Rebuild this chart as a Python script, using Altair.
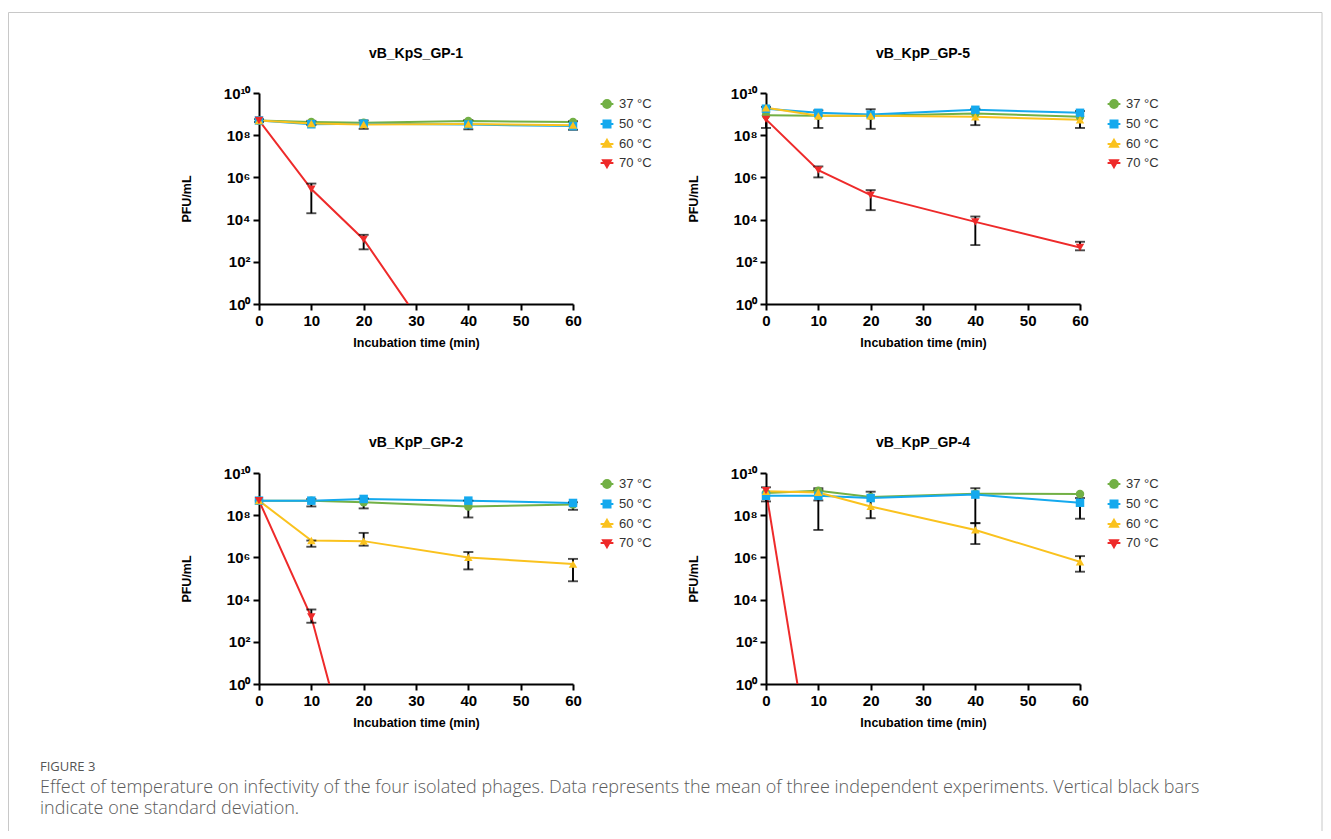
import altair as alt
import pandas as pd

# ---------------- data ----------------
TIMES = [0, 10, 20, 40, 60]
TEMPS = ["37 °C", "50 °C", "60 °C", "70 °C"]
COLORS = ["#72B045", "#14A9EE", "#FAC21E", "#EE2A2A"]
MARKERS = ["circle", "square", "triangle-up", "triangle-down"]

TITLES = ["vB_KpS_GP-1", "vB_KpP_GP-5", "vB_KpP_GP-2", "vB_KpP_GP-4"]

# vB_KpS_GP-1 (PFU/mL)
gp1_37 = [5.0e8, 4.2e8, 3.9e8, 4.7e8, 4.2e8]
gp1_50 = [5.0e8, 3.3e8, 3.5e8, 3.2e8, 2.7e8]
gp1_60 = [5.0e8, 3.6e8, 3.2e8, 3.4e8, 3.0e8]
gp1_70 = [5.0e8, 2.8e5, 1.15e3, 7.0e-5, None]
gp1_err_t = [0, 10, 10, 20, 20, 40, 60]
gp1_err_lo = [4.2e8, 3.0e8, 2.0e4, 2.0e8, 3.9e2, 1.9e8, 1.8e8]
gp1_err_hi = [5.8e8, 4.8e8, 5.1e5, 5.0e8, 1.9e3, 5.2e8, 4.6e8]

# vB_KpP_GP-5
gp5_37 = [8.9e8, 8.3e8, 8.3e8, 1.07e9, 7.4e8]
gp5_50 = [1.8e9, 1.15e9, 9.5e8, 1.6e9, 1.15e9]
gp5_60 = [2.0e9, 8.3e8, 8.3e8, 7.4e8, 5.4e8]
gp5_70 = [5.6e8, 2.2e6, 1.45e5, 7.8e3, 4.8e2]
gp5_err_t = [0, 10, 20, 40, 60, 10, 20, 40, 60]
gp5_err_lo = [2.2e8, 2.2e8, 2.0e8, 3.0e8, 2.2e8, 1.0e6, 2.8e4, 6.2e2, 3.5e2]
gp5_err_hi = [2.2e9, 1.5e9, 1.7e9, 1.8e9, 1.4e9, 3.3e6, 2.5e5, 1.4e4, 8.9e2]

# vB_KpP_GP-2
gp2_37 = [4.9e8, 4.9e8, 4.1e8, 2.6e8, 3.2e8]
gp2_50 = [4.9e8, 4.9e8, 5.9e8, 4.9e8, 3.8e8]
gp2_60 = [4.9e8, 6.3e6, 5.9e6, 1.0e6, 4.8e5]
gp2_70 = [4.9e8, 1.5e3, 8.0e-7, None, None]
gp2_err_t = [10, 20, 40, 60, 10, 20, 40, 60, 10]
gp2_err_lo = [2.6e8, 2.1e8, 7.8e7, 1.8e8, 3.2e6, 3.6e6, 2.7e5, 7.4e4, 8.0e2]
gp2_err_hi = [5.9e8, 6.3e8, 4.9e8, 4.1e8, 6.3e6, 1.45e7, 1.8e6, 8.5e5, 3.4e3]

# vB_KpP_GP-4
gp4_37 = [1.12e9, 1.45e9, 7.2e8, 1.05e9, 1.0e9]
gp4_50 = [8.3e8, 8.3e8, 6.5e8, 9.5e8, 3.9e8]
gp4_60 = [1.35e9, 1.2e9, 2.6e8, 2.0e7, 6.2e5]
gp4_70 = [1.45e9, 8.0e-7, None, None, None]
gp4_err_t = [0, 10, 10, 20, 40, 40, 60, 60]
gp4_err_lo = [4.5e8, 2.0e7, 5.0e8, 7.2e7, 4.2e7, 4.3e6, 6.8e7, 2.1e5]
gp4_err_hi = [2.1e9, 1.6e9, 1.9e9, 1.3e9, 1.9e9, 4.2e7, 6.5e8, 1.15e6]

Y_TICKS = [1, 100, 10000, 1000000, 100000000, 10000000000]
X_TICKS = [0, 10, 20, 30, 40, 50, 60]

CAPTION_HEAD = "FIGURE 3"
CAPTION_LINES = [
    "Effect of temperature on infectivity of the four isolated phages. Data represents the mean of three independent experiments. Vertical black bars",
    "indicate one standard deviation.",
]

# legend symbols: short line through the marker
LEGEND_SHAPES = [
    "M-0.8,0H0.8M0.5,0A0.5,0.5,0,1,1,-0.5,0A0.5,0.5,0,1,1,0.5,0Z",
    "M-0.8,0H0.8M-0.45,-0.45H0.45V0.45H-0.45Z",
    "M-0.8,0H0.8M0,-0.55L0.52,0.35H-0.52Z",
    "M-0.8,0H0.8M0,0.55L0.52,-0.35H-0.52Z",
]

FONT = "Liberation Sans"
W, H = 314, 211
COL_GAP, ROW_GAP = 193, 169

Y_LABEL_EXPR = (
    "datum.value == 1 ? '10⁰' : datum.value == 100 ? '10²' : "
    "datum.value == 10000 ? '10⁴' : datum.value == 1000000 ? '10⁶' : "
    "datum.value == 100000000 ? '10⁸' : '10¹⁰'"
)


def panel(title, series, et, elo, ehi, title_offset):
    rows = []
    for temp, vals in zip(TEMPS, series):
        for t, v in zip(TIMES, vals):
            if v is not None:
                rows.append({"time": t, "pfu": v, "temp": temp})
    df = pd.DataFrame(rows)
    edf = pd.DataFrame({"time": et, "lo": elo, "hi": ehi})

    xs = alt.Scale(domain=[0, 60], nice=False, zero=False)
    ys = alt.Scale(type="log", domain=[1, 1e10], nice=False)
    X = alt.X("time:Q", scale=xs, axis=alt.Axis(
        values=X_TICKS, title="Incubation time (min)", titleY=38,
        titleBaseline="middle", labelFlush=False))
    Y = alt.Y("pfu:Q", scale=ys, axis=alt.Axis(
        values=Y_TICKS, labelExpr=Y_LABEL_EXPR, title="PFU/mL",
        titleX=-73, titleY=H / 2, titleBaseline="middle", titleAlign="center"))
    cscale = alt.Scale(domain=TEMPS, range=COLORS)

    base = alt.Chart(df)

    leg = alt.Legend(
        title=None, orient="right", offset=23, padding=2, symbolSize=256,
        symbolStrokeWidth=1.8, labelFontSize=13, labelFont=FONT,
        labelColor="#333333", rowPadding=3, labelOffset=3, symbolOpacity=1,
    )
    # legend-only layer (no visible marks), placed first so its legend wins
    legend_layer = base.transform_filter("datum.pfu < 0").mark_point(
        filled=True, opacity=1, strokeWidth=1.8
    ).encode(
        x=X, y=Y,
        color=alt.Color("temp:N", scale=cscale, legend=leg),
        shape=alt.Shape("temp:N", scale=alt.Scale(domain=TEMPS, range=LEGEND_SHAPES), legend=leg),
        stroke=alt.Stroke("temp:N", scale=alt.Scale(domain=TEMPS, range=COLORS), legend=leg),
    )

    line = base.mark_line(strokeWidth=2, clip=True).encode(
        x=X, y=Y,
        color=alt.Color("temp:N", scale=cscale, legend=None),
        detail="temp:N",
    )
    eb = alt.Chart(edf)
    bars = eb.mark_rule(color="black", strokeWidth=1.9).encode(
        x=alt.X("time:Q", scale=xs), y=alt.Y("lo:Q", scale=ys), y2="hi:Q")
    cap_lo = eb.mark_tick(color="black", orient="horizontal", size=10, thickness=1.9).encode(
        x=alt.X("time:Q", scale=xs), y=alt.Y("lo:Q", scale=ys))
    cap_hi = eb.mark_tick(color="black", orient="horizontal", size=10, thickness=1.9).encode(
        x=alt.X("time:Q", scale=xs), y=alt.Y("hi:Q", scale=ys))

    pts = []
    for temp, shp in zip(TEMPS, MARKERS):
        pts.append(
            base.transform_filter(
                (alt.datum.temp == temp) & (alt.datum.pfu >= 1)
            ).mark_point(shape=shp, filled=True, size=72, opacity=1).encode(
                x=X, y=Y,
                color=alt.Color("temp:N", scale=cscale, legend=None),
            )
        )

    layers = [legend_layer, line, bars, cap_lo, cap_hi] + pts

    return alt.layer(*layers).properties(
        width=W, height=H,
        title=alt.TitleParams(title, fontSize=14, fontWeight="bold", font=FONT,
                              color="black", anchor="middle", offset=title_offset),
    )


p1 = panel(TITLES[0], [gp1_37, gp1_50, gp1_60, gp1_70], gp1_err_t, gp1_err_lo, gp1_err_hi, 25)
p2 = panel(TITLES[1], [gp5_37, gp5_50, gp5_60, gp5_70], gp5_err_t, gp5_err_lo, gp5_err_hi, 25)
p3 = panel(TITLES[2], [gp2_37, gp2_50, gp2_60, gp2_70], gp2_err_t, gp2_err_lo, gp2_err_hi, 16)
p4 = panel(TITLES[3], [gp4_37, gp4_50, gp4_60, gp4_70], gp4_err_t, gp4_err_lo, gp4_err_hi, 16)

# ---- figure frame + caption (a tiny cell in the third column; positions are
# ---- given relative to that cell's origin, which sits at x = 2*(W+COL_GAP))
CELL_X = 2 * (W + COL_GAP)
FR_L, FR_T, FR_R, FR_B = -250.5 - CELL_X, -80.5, 1063 - CELL_X, 738
CAP_X = 40 - 259 - CELL_X

one = pd.DataFrame({"k": [0]})
fr_left = alt.Chart(one).mark_rule(stroke="#c8c8c8", strokeWidth=1).encode(
    x=alt.value(FR_L), y=alt.value(FR_T), y2=alt.value(FR_B))
fr_top = alt.Chart(one).mark_rule(stroke="#c8c8c8", strokeWidth=1).encode(
    x=alt.value(FR_L), x2=alt.value(FR_R), y=alt.value(FR_T))
fr_right = alt.Chart(one).mark_rule(stroke="#c8c8c8", strokeWidth=1).encode(
    x=alt.value(FR_R), y=alt.value(FR_T), y2=alt.value(FR_B))
cap_head = alt.Chart(one).mark_text(
    text=CAPTION_HEAD, align="left", baseline="alphabetic", font="Open Sans",
    fontSize=13, color="#555555",
).encode(x=alt.value(CAP_X), y=alt.value(678))
cap_body = alt.Chart(one).mark_text(
    text=CAPTION_LINES, align="left", baseline="alphabetic", font="Open Sans",
    fontSize=18, fontWeight=300, color="#5a5a5a", lineHeight=21,
).encode(x=alt.value(CAP_X), y=alt.value(700))

frame_cell = alt.layer(fr_left, fr_top, fr_right, cap_head, cap_body).properties(width=1, height=1)

RES_S = dict(color="independent", shape="independent", stroke="independent")

chart = alt.concat(
    p1, p2, frame_cell, p3, p4, columns=3,
    spacing={"row": ROW_GAP, "column": COL_GAP}, bounds="flush",
).resolve_scale(**RES_S).resolve_legend(**RES_S).properties(
    padding={"left": 0, "top": 4, "right": 0, "bottom": 0},
).configure_view(stroke=None).configure_axis(
    domainColor="black", domainWidth=2, tickColor="black", tickWidth=2,
    tickSize=6, grid=False, labelFont=FONT, labelFontSize=15,
    labelFontWeight="bold", labelColor="black", labelPadding=3,
    titleFont=FONT, titleFontSize=12.5, titleFontWeight="bold", titleColor="black",
)

chart.save("out.html", embed_options={"renderer": "svg", "actions": False})
